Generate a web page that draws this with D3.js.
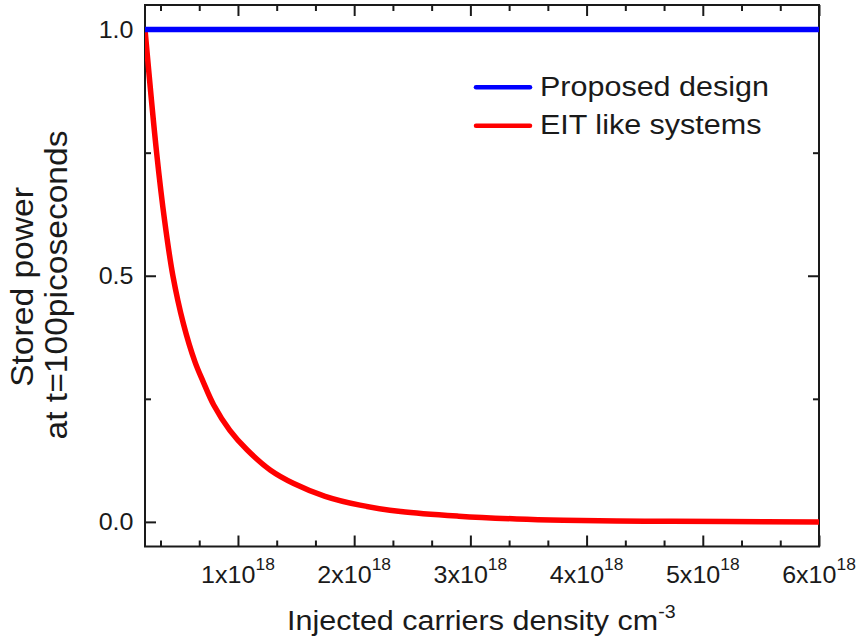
<!DOCTYPE html>
<html>
<head>
<meta charset="utf-8">
<script src="https://cdn.jsdelivr.net/npm/d3@7"></script>
<style>
  html, body { margin: 0; padding: 0; background: #fff; }
  svg { display: block; }
  text { font-family: "Liberation Sans", Arial, sans-serif; fill: #1a1a1a; }
</style>
</head>
<body>
<svg id="chart" width="859" height="641"></svg>
<script>
// Carrier density, in units of 1e18 cm^-3
const densityEIT = [0.2, 0.3, 0.37, 0.44, 0.53, 0.63, 0.70, 0.79, 0.93, 1.08, 1.28, 1.48,
                    1.75, 2.05, 2.4, 2.9, 3.4, 3.8, 4.5, 5.2, 6.0];
// Normalised stored power at t = 100 ps for EIT-like systems
const powerEIT = [1.0, 0.75, 0.61, 0.50, 0.403, 0.325, 0.285, 0.238, 0.186, 0.146, 0.105, 0.078,
                  0.052, 0.034, 0.021, 0.0116, 0.006, 0.0035, 0.0015, 0.0006, 0.0];
// The proposed design keeps all of its power over the whole range
const densityProposed = [0.2, 6.0];
const powerProposed = [1.0, 1.0];

const xMajorTicks = [1, 2, 3, 4, 5, 6];
const xMinorTicks = [1/3, 2/3, 4/3, 5/3, 7/3, 8/3, 10/3, 11/3, 13/3, 14/3, 16/3, 17/3];
const xTickMantissa = ["1", "2", "3", "4", "5", "6"];
const xTickExponent = "18";
const yMajorTicks = [0, 0.5, 1.0];
const yMinorTicks = [0.25, 0.75];
const yTickLabels = ["0.0", "0.5", "1.0"];
const seriesNames = ["Proposed design", "EIT like systems"];
const seriesColors = ["#0000ff", "#ff0000"];

const svg = d3.select("#chart");
const W = 859, H = 641;
const m = { left: 145, right: 819, top: 5, bottom: 546.5 };
const SX = 1.09; // text is drawn slightly wide

svg.append("rect").attr("width", W).attr("height", H).attr("fill", "#fff");

const x = d3.scaleLinear().domain([0.2, 6]).range([m.left, m.right]);
const y = d3.scaleLinear().domain([-0.05, 1.05]).range([m.bottom, m.top]);

svg.append("defs").append("clipPath").attr("id", "plotClip")
  .append("rect").attr("x", m.left).attr("y", m.top)
  .attr("width", m.right - m.left).attr("height", m.bottom - m.top);

// Inward ticks on all four sides
function tickAxis(axisFn, scale, values, size, tx, ty) {
  const g = svg.append("g").attr("transform", `translate(${tx},${ty})`)
    .call(axisFn(scale).tickValues(values).tickSizeInner(-size).tickSizeOuter(0).tickFormat(""));
  g.select(".domain").remove();
  g.selectAll(".tick line").attr("stroke", "#1a1a1a").attr("stroke-width", 2);
  return g;
}
tickAxis(d3.axisBottom, x, xMajorTicks, 11, 0, m.bottom);
tickAxis(d3.axisBottom, x, xMinorTicks, 6, 0, m.bottom);
tickAxis(d3.axisTop, x, xMajorTicks, 11, 0, m.top);
tickAxis(d3.axisTop, x, xMinorTicks, 6, 0, m.top);
tickAxis(d3.axisLeft, y, yMajorTicks, 11, m.left, 0);
tickAxis(d3.axisLeft, y, yMinorTicks, 6, m.left, 0);
tickAxis(d3.axisRight, y, yMajorTicks, 11, m.right, 0);
tickAxis(d3.axisRight, y, yMinorTicks, 6, m.right, 0);

// Frame
svg.append("rect").attr("x", m.left).attr("y", m.top)
  .attr("width", m.right - m.left).attr("height", m.bottom - m.top)
  .attr("fill", "none").attr("stroke", "#1a1a1a").attr("stroke-width", 2);

// X tick labels: N x 10^18
xMajorTicks.forEach((v, i) => {
  const t = svg.append("text")
    .attr("transform", `translate(${x(v)},583) scale(${SX},1)`)
    .attr("text-anchor", "middle").attr("font-size", 23);
  t.append("tspan").text(xTickMantissa[i] + "x10");
  t.append("tspan").attr("font-size", 16).attr("dy", -13).text(xTickExponent);
});

// Y tick labels
yMajorTicks.forEach((v, i) => {
  svg.append("text")
    .attr("transform", `translate(133.5,${y(v) + 8.3}) scale(${SX},1)`)
    .attr("text-anchor", "end").attr("font-size", 23)
    .text(yTickLabels[i]);
});

// Axis titles
const xt = svg.append("text")
  .attr("transform", `translate(287,630) scale(${SX},1)`)
  .attr("font-size", 28);
xt.append("tspan").text("Injected carriers density cm");
xt.append("tspan").attr("font-size", 18).attr("dy", -12).text("-3");

svg.append("text")
  .attr("transform", `translate(33,287) rotate(-90) scale(1.2,${SX})`)
  .attr("text-anchor", "middle").attr("font-size", 28)
  .text("Stored power");
svg.append("text")
  .attr("transform", `translate(67,285) rotate(-90) scale(1.2,${SX})`)
  .attr("text-anchor", "middle").attr("font-size", 28)
  .text("at t=100picoseconds");

// Curves
const line = d3.line().x(d => x(d[0])).y(d => y(d[1])).curve(d3.curveCatmullRom.alpha(0.5));
const plot = svg.append("g").attr("clip-path", "url(#plotClip)");
plot.append("path")
  .datum(densityEIT.map((d, i) => [d, powerEIT[i]]))
  .attr("d", line).attr("fill", "none")
  .attr("stroke", seriesColors[1]).attr("stroke-width", 5.5);
plot.append("path")
  .datum(densityProposed.map((d, i) => [d, powerProposed[i]]))
  .attr("d", line).attr("fill", "none")
  .attr("stroke", seriesColors[0]).attr("stroke-width", 5.5);

// Legend
const legendY = [87.3, 125.7];
seriesNames.forEach((name, i) => {
  svg.append("line")
    .attr("x1", 476).attr("x2", 530).attr("y1", legendY[i]).attr("y2", legendY[i])
    .attr("stroke", seriesColors[i]).attr("stroke-width", 4.5).attr("stroke-linecap", "round");
  svg.append("text")
    .attr("transform", `translate(540,${legendY[i] + 8.5}) scale(${SX},1)`)
    .attr("font-size", 28).text(name);
});
</script>
</body>
</html>
